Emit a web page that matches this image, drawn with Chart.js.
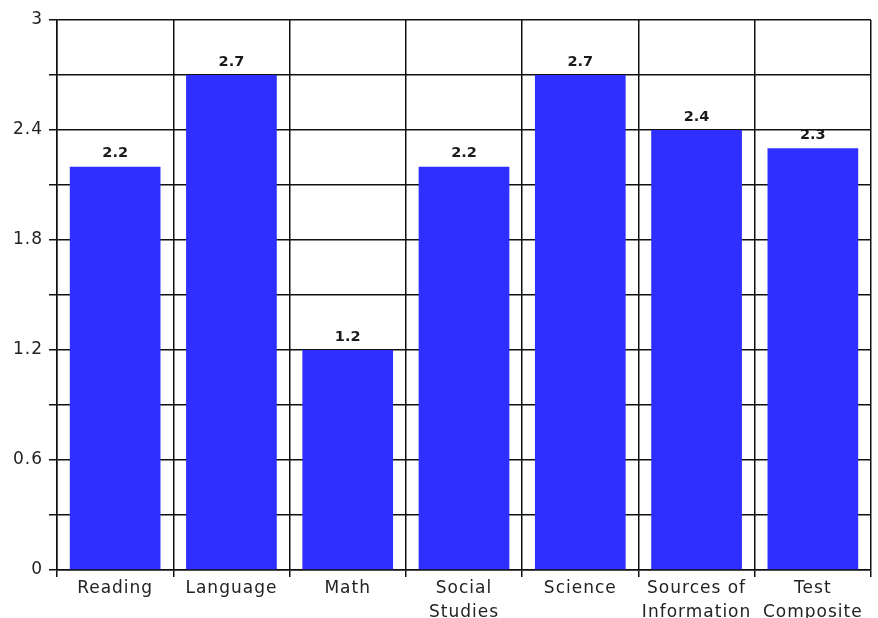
<!DOCTYPE html>
<html>
<head>
<meta charset="utf-8">
<script src="https://cdn.jsdelivr.net/npm/chart.js@4/dist/chart.umd.min.js"></script>
<style>
  html, body { margin: 0; padding: 0; background: #fff; }
  #wrap { width: 878px; height: 618px; }
</style>
</head>
<body>
<div id="wrap"><canvas id="chart"></canvas></div>
<script>
var categories = ["Reading", "Language", "Math", ["Social", "Studies"], "Science", ["Sources of", "Information"], ["Test", "Composite"]];
var scores = [2.2, 2.7, 1.2, 2.2, 2.7, 2.4, 2.3];
var yLabels = ["0", "0.6", "1.2", "1.8", "2.4", "3"];

// the old chart text is spaced out a little, so widen it
var spacing = {
  id: "spacing",
  beforeLayout: function (chart) { chart.ctx.letterSpacing = "1px"; },
  beforeDraw: function (chart) { chart.ctx.letterSpacing = "1px"; }
};

// draws the bold value above each bar
var valueLabels = {
  id: "valueLabels",
  afterDatasetsDraw: function (chart) {
    var ctx = chart.ctx;
    var meta = chart.getDatasetMeta(0);
    ctx.save();
    ctx.letterSpacing = "0px";
    ctx.font = "bold 14.5px 'DejaVu Sans'";
    ctx.fillStyle = "#1a1a1a";
    ctx.textAlign = "center";
    ctx.textBaseline = "bottom";
    meta.data.forEach(function (bar, i) {
      ctx.fillText(scores[i].toFixed(1), bar.x, bar.y - 6);
    });
    ctx.restore();
  }
};

var chart = new Chart(document.getElementById("chart"), {
  type: "bar",
  data: {
    labels: categories,
    datasets: [{
      data: scores,
      backgroundColor: "#2F2FFF",
      borderWidth: 0,
      categoryPercentage: 1,
      barPercentage: 0.78
    }]
  },
  options: {
    responsive: true,
    maintainAspectRatio: false,
    animation: false,
    layout: { padding: { top: 20, right: 7, left: 0, bottom: 0 } },
    plugins: {
      legend: { display: false },
      tooltip: { enabled: false }
    },
    scales: {
      x: {
        grid: { color: "#111", lineWidth: 1.5, tickLength: 7, offset: true },
        border: { color: "#111", width: 1.5 },
        ticks: {
          color: "#222",
          font: { family: "'DejaVu Sans'", size: 17, lineHeight: 1.45 },
          padding: -1,
          maxRotation: 0,
          autoSkip: false
        },
        afterFit: function (s) { s.height = 48; }
      },
      y: {
        min: 0,
        max: 3,
        grid: { color: "#111", lineWidth: 1.5, tickLength: 8 },
        border: { color: "#111", width: 1.5 },
        ticks: {
          stepSize: 0.3,
          color: "#222",
          font: { family: "'DejaVu Sans'", size: 17 },
          padding: 6,
          callback: function (v) {
            var n = Math.round(v * 10);
            return n % 6 === 0 ? yLabels[n / 6] : "";
          }
        },
        afterFit: function (s) { s.width = 57; }
      }
    }
  },
  plugins: [spacing, valueLabels]
});
</script>
</body>
</html>
